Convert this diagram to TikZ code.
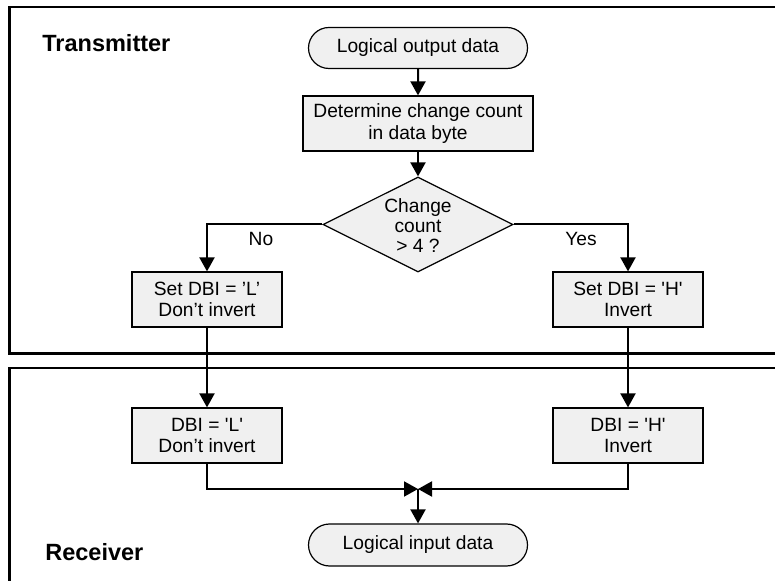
\documentclass[tikz,border=0pt]{standalone}
\usepackage{fontspec}
\setmainfont{Liberation Sans}
\usetikzlibrary{shapes.geometric,shapes.misc,arrows.meta}
\definecolor{boxgray}{RGB}{240,240,240}
\newcommand{\sq}{\textquotesingle}
\begin{document}
\begin{tikzpicture}[x=0.5pt,y=-0.5pt,
  every node/.style={font=\fontsize{9.6pt}{10.8pt}\selectfont, align=center, inner sep=0pt},
  proc/.style={draw, fill=boxgray, line width=0.6pt, minimum width=75pt, minimum height=27.5pt},
  term/.style={draw, fill=boxgray, rounded rectangle, line width=0.6pt, minimum width=109.5pt, minimum height=20.5pt},
  decide/.style={draw, fill=boxgray, diamond, line width=0.6pt, minimum width=95pt, minimum height=47.5pt},
  flow/.style={line width=1pt, -{Triangle[length=7pt,width=7.5pt]}},
  frame/.style={line width=1.2pt},
  zone/.style={font=\fontsize{11.75pt}{13pt}\selectfont\bfseries, anchor=west}
]
\useasboundingbox (0,0) rectangle (775,581);

% section frames
\draw[frame] (775,7) -- (9.5,7) -- (9.5,353.5) -- (775,353.5);
\draw[frame] (775,368) -- (9.5,368) -- (9.5,581);
\node[zone] (tx) at (42,43) {Transmitter};
\node[zone] (rx) at (45,552) {Receiver};

% transmitter flow
\node[term] (out) at (418,48) {Logical output data};
\node[proc, minimum width=115pt] (det) at (418,123.5) {Determine change count\\in data byte};
\node[decide] (dec) at (418,224.5)
  {\raisebox{-9.5pt}{\makebox[0pt]{\smash{\fontsize{9.6pt}{10pt}\selectfont
   \begin{tabular}{@{}c@{}}Change\\count\\> 4 ?\end{tabular}}}}};
\node[proc] (setL) at (207,299.5) {Set DBI = ’L’\\Don’t invert};
\node[proc] (setH) at (628,299.5) {Set DBI = \sq H\sq\\Invert};
\node (no) at (261,239) {No};
\node (yes) at (581,239) {Yes};

% receiver flow
\node[proc] (recL) at (207,435.5) {DBI = \sq L\sq\\Don’t invert};
\node[proc] (recH) at (628,435.5) {DBI = \sq H\sq\\Invert};
\coordinate (j) at (418,489);
\node[term, minimum height=21pt] (in) at (418,545) {Logical input data};

% connectors
\draw[flow] (out) -- (det);
\draw[flow] (det) -- (dec);
\draw[flow] (dec.west) -| (setL.north);
\draw[flow] (dec.east) -| (setH.north);
\draw[flow] (setL) -- (recL);
\draw[flow] (setH) -- (recH);
\draw[flow] (recL.south) |- (j);
\draw[flow] (recH.south) |- (j);
\draw[flow] (j) -- (in.north);
\end{tikzpicture}
\end{document}
